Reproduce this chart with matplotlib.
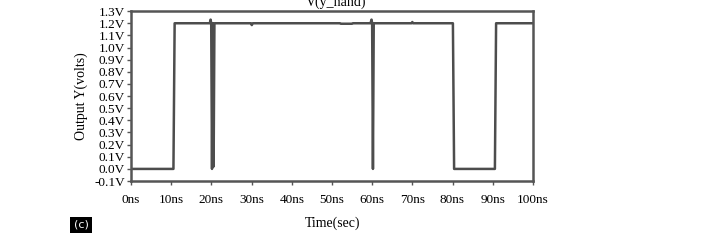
import matplotlib.pyplot as plt
import matplotlib.patches as patches

# waveform breakpoints (time in ns, output in V)
time_ns = [0, 10.55, 10.7, 10.85, 19.6, 19.8, 19.95, 20.15, 20.35, 20.55, 20.75,
           29.8, 30.05, 30.3, 52.0, 52.2, 55.0, 55.2, 59.6, 59.85, 60.0, 60.2,
           60.4, 60.6, 69.8, 70.0, 70.2, 80.1, 80.25, 80.4, 90.55, 90.7,
           90.85, 100]
v_out = [0.0, 0.0, 0.6, 1.2, 1.2, 1.23, 1.2, 0.0, 1.2, 0.02, 1.2,
         1.2, 1.185, 1.2, 1.2, 1.196, 1.196, 1.2, 1.2, 1.23, 1.2, 0.0,
         1.2, 1.2, 1.2, 1.21, 1.2, 1.2, 0.6, 0.0, 0.0, 0.6,
         1.2, 1.2]

x_ticks = [0, 10, 20, 30, 40, 50, 60, 70, 80, 90, 100]
x_labels = [f"{v}ns" for v in x_ticks]
y_ticks = [-0.1, 0.0, 0.1, 0.2, 0.3, 0.4, 0.5, 0.6, 0.7, 0.8, 0.9, 1.0, 1.1, 1.2, 1.3]
y_labels = [f"{v:.1f}V" for v in y_ticks]

plt.rcParams['font.family'] = ['Liberation Serif', 'DejaVu Serif']

fig = plt.figure(figsize=(7.24, 2.47), dpi=100)
ax = fig.add_axes([0.181, 0.267, 0.555, 0.688])

ax.plot(time_ns, v_out, color='#4d4d4d', lw=1.8, solid_joinstyle='round')

ax.set_xlim(0, 100)
ax.set_ylim(-0.1, 1.3)
ax.set_xticks(x_ticks)
ax.set_xticklabels(x_labels)
ax.set_yticks(y_ticks)
ax.set_yticklabels(y_labels)
ax.tick_params(axis='both', direction='out', length=3, width=1,
               color='#555555', labelsize=9.5, pad=1.5)
ax.tick_params(axis='x', pad=6)

for s in ax.spines.values():
    s.set_color('#555555')
    s.set_linewidth(1.8)

ax.set_ylabel('Output Y(volts)', fontsize=10, labelpad=4)
fig.text(0.459, 0.098, 'Time(sec)', ha='center', va='center', fontsize=10)
fig.text(0.464, 0.99, 'V(y_nand)', ha='center', va='center', fontsize=10)

# "(c)" panel tag
fig.patches.append(patches.Rectangle((0.0967, 0.058), 0.0304, 0.065,
                                     transform=fig.transFigure,
                                     facecolor='black', edgecolor='none'))
fig.text(0.112, 0.091, '(c)', color='white', ha='center', va='center',
         fontsize=8, family='DejaVu Sans')

fig.savefig('out.png', dpi=100)
